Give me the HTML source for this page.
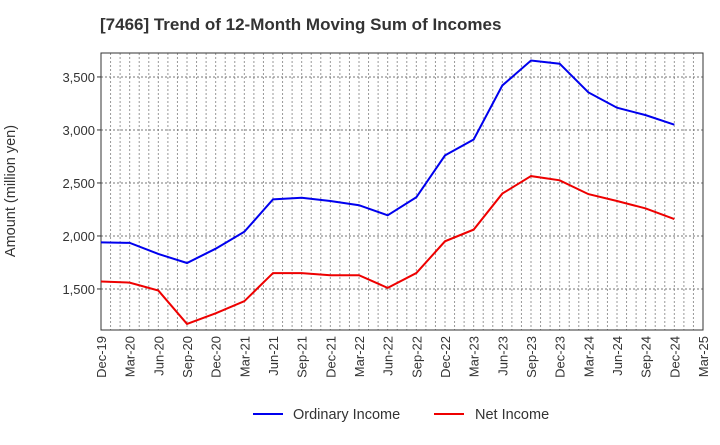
<!DOCTYPE html>
<html><head><meta charset="utf-8"><style>
body{margin:0;background:#fff;font-family:"Liberation Sans",sans-serif;}
svg text{font-family:"Liberation Sans",sans-serif;}
</style></head><body>
<svg id="chart" width="720" height="440" xmlns="http://www.w3.org/2000/svg">
<text x="100" y="30" font-size="17" font-weight="bold" fill="#333">[7466]  Trend of 12-Month Moving Sum of Incomes</text>
<text transform="translate(15,191) rotate(-90)" text-anchor="middle" font-size="14.5" fill="#333">Amount (million yen)</text>
<g id="grid"></g><g id="axes"></g><g id="series"></g>
<g>
<line x1="253" y1="414" x2="283" y2="414" stroke="#0000ee" stroke-width="2"/>
<text x="293" y="419" font-size="14.5" fill="#333">Ordinary Income</text>
<line x1="434" y1="414" x2="464" y2="414" stroke="#ee0000" stroke-width="2"/>
<text x="475" y="419" font-size="14.5" fill="#333">Net Income</text>
</g>
</svg>
<script>
const categories=["Dec-19","Mar-20","Jun-20","Sep-20","Dec-20","Mar-21","Jun-21","Sep-21","Dec-21","Mar-22","Jun-22","Sep-22","Dec-22","Mar-23","Jun-23","Sep-23","Dec-23","Mar-24","Jun-24","Sep-24","Dec-24","Mar-25"];
const ordinaryIncome=[1940,1935,1830,1745,1880,2040,2345,2360,2330,2290,2195,2365,2760,2910,3420,3655,3625,3355,3210,3140,3050];
const netIncome=[1570,1560,1485,1170,1270,1385,1650,1650,1630,1630,1510,1650,1950,2060,2400,2565,2525,2395,2330,2260,2160];
const yTicks=[1500,2000,2500,3000,3500];
const yTickLabels=["1,500","2,000","2,500","3,000","3,500"];
const L=101,R=703,T=53,B=330,yMin=1113,yMax=3726;
const NS="http://www.w3.org/2000/svg";
const xs=i=>L+(R-L)*i/(categories.length-1);
const ys=v=>B-(v-yMin)/(yMax-yMin)*(B-T);
function mk(tag,attrs,parent){const e=document.createElementNS(NS,tag);for(const k in attrs)e.setAttribute(k,attrs[k]);document.getElementById(parent).appendChild(e);return e;}
const nMonths=(categories.length-1)*3;
for(let m=1;m<nMonths;m++){const x=L+(R-L)*m/nMonths;
const g=mk("line",{x1:x,x2:x,y1:T,y2:B,stroke:"#999","stroke-dasharray":"2,2","stroke-width":1},"grid");

}
yTicks.forEach((v,i)=>{const y=ys(v);
const g=mk("line",{x1:L,x2:R,y1:y,y2:y,stroke:"#777","stroke-dasharray":"2,2","stroke-width":1},"grid");


const t=mk("text",{x:L-6,y:y+5,"text-anchor":"end","font-size":"13",fill:"#333"},"axes");t.textContent=yTickLabels[i];


const tk=mk("line",{x1:L-4,x2:L,y1:y,y2:y,stroke:"#333"},"axes");

});
categories.forEach((c,i)=>{const x=xs(i);
const t=mk("text",{transform:`translate(${x+5},${B+6}) rotate(-90)`,"text-anchor":"end","font-size":"13",fill:"#333"},"axes");t.textContent=c;

});
const fr=mk("rect",{x:L,y:T,width:R-L,height:B-T,fill:"none",stroke:"#333","stroke-width":1},"axes");


[[ordinaryIncome,"#0000ee","ordinary-income-line"],[netIncome,"#ee0000","net-income-line"]].forEach(([d,c,n])=>{
const p=mk("polyline",{points:d.map((v,i)=>xs(i)+","+ys(v)).join(" "),fill:"none",stroke:c,"stroke-width":2},"series");

});
</script>
</body></html>
